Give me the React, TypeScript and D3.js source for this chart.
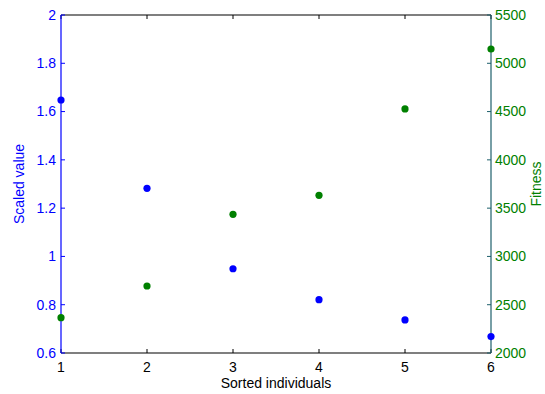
import * as d3 from 'd3';

const individuals = [1, 2, 3, 4, 5, 6];
const scaledValues = [1.648, 1.282, 0.949, 0.821, 0.737, 0.668];
const fitnessValues = [2366, 2694, 3436, 3633, 4527, 5148];

const leftTicks = [0.6, 0.8, 1, 1.2, 1.4, 1.6, 1.8, 2];
const rightTicks = [2000, 2500, 3000, 3500, 4000, 4500, 5000, 5500];

const W = 545;
const H = 394;
const margin = { top: 15, right: 54, bottom: 41, left: 61 };
const blue = '#0000ff';
const green = '#008000';
const rightAxisColor = '#1d5f6b';
const font = '"Liberation Sans", Arial, Helvetica, sans-serif';

export default function App() {
  const x = d3
    .scaleLinear()
    .domain([1, 6])
    .range([margin.left, W - margin.right]);
  const yLeft = d3
    .scaleLinear()
    .domain([0.6, 2])
    .range([H - margin.bottom, margin.top]);
  const yRight = d3
    .scaleLinear()
    .domain([2000, 5500])
    .range([H - margin.bottom, margin.top]);

  const x0 = margin.left;
  const x1 = W - margin.right;
  const y0 = H - margin.bottom;
  const y1 = margin.top;
  const tick = 4;

  return (
    <svg
      width={W}
      height={H}
      style={{ position: 'absolute', left: 0, top: 0, background: '#fff' }}
      fontFamily={font}
    >
      {/* frame: bottom and top in black */}
      <line x1={x0} x2={x1} y1={y0} y2={y0} stroke="#000" strokeWidth={1.2} />
      <line x1={x0} x2={x1} y1={y1} y2={y1} stroke="#000" strokeWidth={1.2} />
      {individuals.map((d) => (
        <g key={`xt${d}`}>
          <line x1={x(d)} x2={x(d)} y1={y0} y2={y0 - tick} stroke="#000" />
          <line x1={x(d)} x2={x(d)} y1={y1} y2={y1 + tick} stroke="#000" />
          <text x={x(d)} y={y0 + 19} textAnchor="middle" fontSize={14} fill="#000">
            {d}
          </text>
        </g>
      ))}
      <text x={(x0 + x1) / 2} y={y0 + 35} textAnchor="middle" fontSize={14} fill="#000">
        Sorted individuals
      </text>

      {/* left axis */}
      <line x1={x0} x2={x0} y1={y0} y2={y1} stroke={blue} strokeWidth={1.2} />
      {leftTicks.map((t) => (
        <g key={`lt${t}`}>
          <line x1={x0} x2={x0 + tick} y1={yLeft(t)} y2={yLeft(t)} stroke={blue} />
          <text
            x={x0 - 5}
            y={yLeft(t)}
            dy="0.35em"
            textAnchor="end"
            fontSize={14}
            fill={blue}
          >
            {t}
          </text>
        </g>
      ))}
      <text
        transform={`translate(24,${(y0 + y1) / 2}) rotate(-90)`}
        textAnchor="middle"
        fontSize={14}
        fill={blue}
      >
        Scaled value
      </text>

      {/* right axis */}
      <line x1={x1} x2={x1} y1={y0} y2={y1} stroke={rightAxisColor} strokeWidth={1.2} />
      {rightTicks.map((t) => (
        <g key={`rt${t}`}>
          <line x1={x1} x2={x1 - tick} y1={yRight(t)} y2={yRight(t)} stroke={rightAxisColor} />
          <text x={x1 + 4} y={yRight(t)} dy="0.35em" textAnchor="start" fontSize={14} fill={green}>
            {t}
          </text>
        </g>
      ))}
      <text
        transform={`translate(541,${(y0 + y1) / 2}) rotate(-90)`}
        textAnchor="middle"
        fontSize={14}
        fill={green}
      >
        Fitness
      </text>

      {/* points */}
      {individuals.map((d, i) => (
        <circle key={`b${d}`} cx={x(d)} cy={yLeft(scaledValues[i])} r={3.6} fill={blue} />
      ))}
      {individuals.map((d, i) => (
        <circle key={`g${d}`} cx={x(d)} cy={yRight(fitnessValues[i])} r={3.6} fill={green} />
      ))}
    </svg>
  );
}
